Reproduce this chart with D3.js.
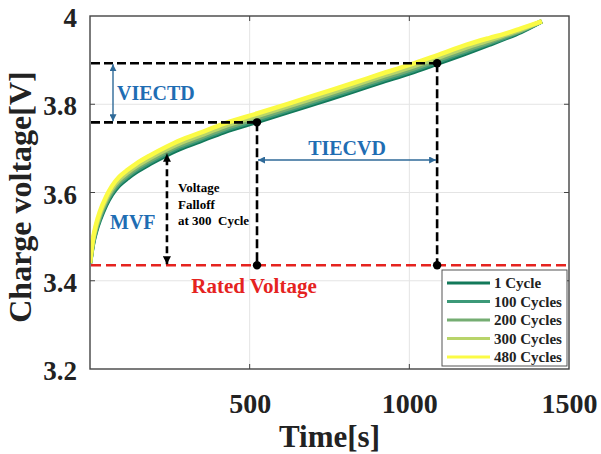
<!DOCTYPE html>
<html><head><meta charset="utf-8">
<script src="https://cdn.jsdelivr.net/npm/d3@7"></script>
<style>
html,body{margin:0;padding:0;background:#fff;}
svg{display:block;font-family:"Liberation Serif","Times New Roman",serif;font-weight:bold;}
</style>
</head><body>
<svg id="chart" width="601" height="454"></svg>
<script>
// ---------------- data ----------------
const times = [0, 9, 19, 31, 50, 69, 91, 119, 144, 188, 238, 282, 344, 420, 523, 620, 720, 820, 908, 1000, 1087, 1180, 1250, 1300, 1350, 1415];
const seriesNames = ["1 Cycle", "100 Cycles", "200 Cycles", "300 Cycles", "480 Cycles"];
const seriesColors = ["#12795a", "#3c9978", "#75ad72", "#b8d46a", "#fbfb45"];
const cycle1   = [3.440,3.482,3.512,3.538,3.571,3.596,3.616,3.633,3.646,3.665,3.684,3.699,3.716,3.737,3.760,3.782,3.805,3.828,3.849,3.870,3.892,3.916,3.935,3.949,3.964,3.988];
const cycle100 = [3.440,3.484,3.515,3.542,3.575,3.600,3.620,3.637,3.650,3.669,3.688,3.703,3.720,3.741,3.764,3.786,3.809,3.832,3.853,3.874,3.896,3.920,3.938,3.951,3.966,3.988];
const cycle200 = [3.440,3.487,3.519,3.546,3.579,3.604,3.624,3.641,3.654,3.673,3.692,3.707,3.724,3.745,3.768,3.790,3.813,3.836,3.857,3.878,3.900,3.924,3.941,3.954,3.967,3.988];
const cycle300 = [3.440,3.490,3.523,3.551,3.584,3.609,3.629,3.646,3.659,3.678,3.697,3.712,3.729,3.750,3.773,3.795,3.818,3.841,3.862,3.883,3.905,3.929,3.945,3.957,3.969,3.988];
const cycle480 = [3.440,3.493,3.528,3.557,3.590,3.615,3.635,3.652,3.665,3.684,3.703,3.718,3.735,3.756,3.779,3.801,3.824,3.847,3.868,3.889,3.911,3.935,3.950,3.960,3.972,3.988];
const seriesValues = [cycle1, cycle100, cycle200, cycle300, cycle480];

const xTicks = [500, 1000, 1500];
const yTicks = [3.2, 3.4, 3.6, 3.8, 4];
const gridX = [500, 1000];
const gridY = [3.4, 3.6, 3.8];

const ratedVoltage = 3.435;
const pointA = {t: 523, v: 3.759};   // lower dashed level
const pointB = {t: 1087, v: 3.893};  // upper dashed level
const falloff = {t: 241, v: 3.690};  // voltage falloff at 300 cycle

// ---------------- layout ----------------
const svg = d3.select("#chart");
const L = 90, R = 569, T = 16, B = 369;
const x = d3.scaleLinear().domain([0, 1500]).range([L, R]);
const y = d3.scaleLinear().domain([3.2, 4]).range([B, T]);

svg.append("rect").attr("width", 601).attr("height", 454).attr("fill", "#fff");

const defs = svg.append("defs");
defs.append("clipPath").attr("id", "clip").append("rect")
  .attr("x", L).attr("y", T).attr("width", R - L).attr("height", B - T);
function marker(id, color, w, h) {
  defs.append("marker").attr("id", id).attr("viewBox", "0 0 10 10")
    .attr("refX", 10).attr("refY", 5).attr("markerUnits", "userSpaceOnUse")
    .attr("markerWidth", w).attr("markerHeight", h).attr("orient", "auto-start-reverse")
    .append("path").attr("d", "M0,0 L10,5 L0,10 Z").attr("fill", color);
}
marker("arrBlue", "#2f6a99", 7, 7);
marker("arrBlack", "#000", 9, 8);

// grid
const g = svg.append("g");
g.selectAll(".gx").data(gridX).join("line")
  .attr("x1", d => x(d)).attr("x2", d => x(d)).attr("y1", T).attr("y2", B)
  .attr("stroke", "#e4e4e4").attr("stroke-width", 1);
g.selectAll(".gy").data(gridY).join("line")
  .attr("x1", L).attr("x2", R).attr("y1", d => y(d)).attr("y2", d => y(d))
  .attr("stroke", "#e4e4e4").attr("stroke-width", 1);

// curves
const line = d3.line().x(d => x(d[0])).y(d => y(d[1])).curve(d3.curveMonotoneX);
const curves = svg.append("g").attr("clip-path", "url(#clip)");
seriesValues.forEach((vals, i) => {
  const pts = vals.map((v, k) => [times[k], v]);
  curves.append("path").datum(pts).attr("d", line)
    .attr("fill", "none").attr("stroke", seriesColors[i]).attr("stroke-width", 4.5)
    .attr("stroke-linecap", "butt");
});

// rated voltage
svg.append("line").attr("x1", L + 1).attr("x2", R - 1)
  .attr("y1", y(ratedVoltage)).attr("y2", y(ratedVoltage))
  .attr("stroke", "#e5231f").attr("stroke-width", 2.6).attr("stroke-dasharray", "10,5");

// black dashed guide lines
const ann = svg.append("g").attr("stroke", "#000").attr("stroke-width", 2.6).attr("stroke-dasharray", "9,4");
ann.append("line").attr("x1", L + 1).attr("x2", x(pointB.t)).attr("y1", y(pointB.v)).attr("y2", y(pointB.v));
ann.append("line").attr("x1", L + 1).attr("x2", x(pointA.t)).attr("y1", y(pointA.v)).attr("y2", y(pointA.v));
ann.append("line").attr("x1", x(pointA.t)).attr("x2", x(pointA.t)).attr("y1", y(pointA.v)).attr("y2", y(ratedVoltage));
ann.append("line").attr("x1", x(pointB.t)).attr("x2", x(pointB.t)).attr("y1", y(pointB.v)).attr("y2", y(ratedVoltage));
// falloff arrow
svg.append("line").attr("x1", x(falloff.t)).attr("x2", x(falloff.t))
  .attr("y1", y(ratedVoltage) - 1).attr("y2", y(falloff.v) + 1)
  .attr("stroke", "#000").attr("stroke-width", 2.6).attr("stroke-dasharray", "7,4")
  .attr("marker-start", "url(#arrBlack)").attr("marker-end", "url(#arrBlack)");

// dots
const dots = [[pointA.t, pointA.v], [pointA.t, ratedVoltage], [pointB.t, pointB.v], [pointB.t, ratedVoltage]];
svg.selectAll(".dot").data(dots).join("circle")
  .attr("cx", d => x(d[0])).attr("cy", d => y(d[1])).attr("r", 4.2).attr("fill", "#000");

// blue arrows
svg.append("line").attr("x1", 113).attr("x2", 113).attr("y1", y(pointB.v) + 1).attr("y2", y(pointA.v) - 1)
  .attr("stroke", "#2f6a99").attr("stroke-width", 1.4)
  .attr("marker-start", "url(#arrBlue)").attr("marker-end", "url(#arrBlue)");
svg.append("line").attr("x1", x(pointA.t) + 1).attr("x2", x(pointB.t) - 1).attr("y1", 160).attr("y2", 160)
  .attr("stroke", "#2f6a99").attr("stroke-width", 1.4)
  .attr("marker-start", "url(#arrBlue)").attr("marker-end", "url(#arrBlue)");

// annotation text
const blue = "#1f6db3";
svg.append("text").attr("x", 117).attr("y", 100).attr("fill", blue).attr("font-size", 20).text("VIECTD");
svg.append("text").attr("x", (x(pointA.t) + x(pointB.t)) / 2).attr("y", 155).attr("text-anchor", "middle")
  .attr("fill", blue).attr("font-size", 20).text("TIECVD");
svg.append("text").attr("x", 110).attr("y", 229).attr("fill", blue).attr("font-size", 20).text("MVF");
svg.append("text").attr("x", 254).attr("y", 293).attr("text-anchor", "middle")
  .attr("fill", "#e5231f").attr("font-size", 21).text("Rated Voltage");
const fl = svg.append("text").attr("font-size", 13).attr("fill", "#000");
["Voltage", "Falloff", "at 300\u00a0 Cycle"].forEach((s, i) => {
  fl.append("tspan").attr("x", 178).attr("y", 192 + i * 16.5).text(s);
});

// frame
svg.append("rect").attr("x", L).attr("y", T).attr("width", R - L).attr("height", B - T)
  .attr("fill", "none").attr("stroke", "#444").attr("stroke-width", 1.4);
// inner ticks (all four sides)
const tk = svg.append("g").attr("stroke", "#444").attr("stroke-width", 1);
gridX.forEach(d => {
  tk.append("line").attr("x1", x(d)).attr("x2", x(d)).attr("y1", B).attr("y2", B - 5);
  tk.append("line").attr("x1", x(d)).attr("x2", x(d)).attr("y1", T).attr("y2", T + 5);
});
gridY.forEach(d => {
  tk.append("line").attr("x1", L).attr("x2", L + 5).attr("y1", y(d)).attr("y2", y(d));
  tk.append("line").attr("x1", R).attr("x2", R - 5).attr("y1", y(d)).attr("y2", y(d));
});

// axes labels
const yAxis = svg.append("g").attr("transform", `translate(${L},2)`)
  .call(d3.axisLeft(y).tickValues(yTicks).tickSize(0).tickPadding(13).tickFormat(d => String(d)));
yAxis.select(".domain").remove();
yAxis.selectAll("text").attr("font-size", 27).attr("font-family", "Liberation Serif").attr("font-weight", "bold").attr("fill", "#222");

const xAxis = svg.append("g").attr("transform", `translate(0,${B})`)
  .call(d3.axisBottom(x).tickValues(xTicks).tickSize(0).tickPadding(24).tickFormat(d => String(d)));
xAxis.select(".domain").remove();
xAxis.selectAll("text").attr("font-size", 28).attr("font-family", "Liberation Serif").attr("font-weight", "bold").attr("fill", "#222");

svg.append("text").attr("x", (L + R) / 2).attr("y", 447).attr("text-anchor", "middle")
  .attr("font-size", 31).attr("fill", "#222").text("Time[s]");
svg.append("text").attr("transform", "translate(31,197) rotate(-90)").attr("text-anchor", "middle")
  .attr("font-size", 32).attr("fill", "#222").text("Charge voltage[V]");

// legend
const lg = svg.append("g");
lg.append("rect").attr("x", 442).attr("y", 270).attr("width", 125).attr("height", 96)
  .attr("fill", "#fff").attr("stroke", "#555").attr("stroke-width", 1);
seriesNames.forEach((n, i) => {
  const yy = 283 + i * 18.5;
  lg.append("line").attr("x1", 447).attr("x2", 490).attr("y1", yy).attr("y2", yy)
    .attr("stroke", seriesColors[i]).attr("stroke-width", 3);
  lg.append("text").attr("x", 494).attr("y", yy + 5).attr("font-size", 15).attr("fill", "#222").text(n);
});
</script>
</body></html>
